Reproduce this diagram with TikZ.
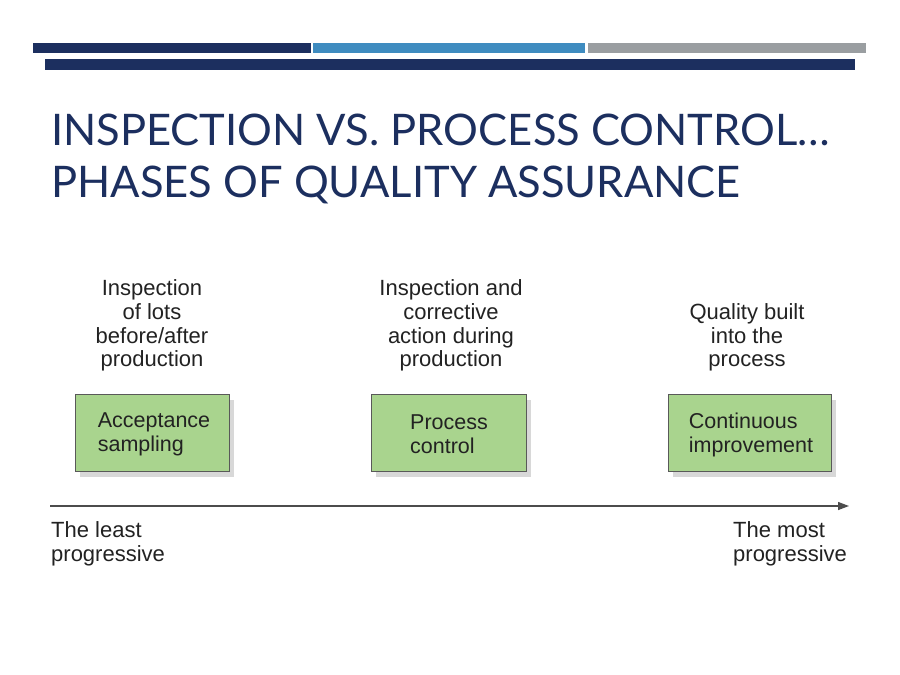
\documentclass[tikz,border=0pt]{standalone}
\usepackage{fontspec}
\setmainfont{Liberation Sans}
\newfontfamily\titlefont{Lato}
\usetikzlibrary{arrows.meta,shadows}
\definecolor{navy}{HTML}{1C2F5F}
\definecolor{lblue}{HTML}{3F8CC0}
\definecolor{bargray}{HTML}{9A9EA1}
\definecolor{boxgreen}{HTML}{A9D48E}
\definecolor{txt}{HTML}{222222}
\tikzset{
  phasebox/.style={draw=black!65, line width=0.9pt, fill=boxgreen, minimum width=154pt, minimum height=77pt,
    align=left, text=txt, font=\fontsize{21.5}{24}\selectfont, inner sep=0pt,
    drop shadow={shadow xshift=5pt, shadow yshift=-6pt, fill=black!25, opacity=0.6}},
  boxtext/.style={align=left, text=txt, font=\fontsize{21.5}{24}\selectfont, inner sep=0pt},
  desc/.style={align=center, text=txt, font=\fontsize{22}{23.7}\selectfont, inner sep=0pt, anchor=south},
  endlabel/.style={align=left, text=txt, font=\fontsize{22}{24}\selectfont, inner sep=0pt, anchor=north west},
  axis/.style={draw=black!70, line width=1.3pt, -{Triangle[length=11pt,width=8pt]}}
}
\begin{document}
\begin{tikzpicture}[x=1pt,y=-1pt]
\useasboundingbox[fill=white] (0,0) rectangle (900,675);
% top bars
\fill[navy] (33,43) rectangle (311,53);
\fill[lblue] (313,43) rectangle (585,53);
\fill[bargray] (588,43) rectangle (866,53);
\fill[navy] (45,59) rectangle (855,70);
% title
\node[anchor=base west, inner sep=0pt, text=navy, font=\titlefont\fontsize{43.5}{52}\selectfont] (t1) at (51,145) {INSPECTION VS. PROCESS CONTROL…};
\node[anchor=base west, inner sep=0pt, text=navy, font=\titlefont\fontsize{43.5}{52}\selectfont] (t2) at (51,197) {PHASES OF QUALITY ASSURANCE};
% boxes
\node[phasebox, minimum width=154pt] (b1) at (152,432.5) {};
\node[phasebox, minimum width=155pt] (b2) at (448.5,432.5) {};
\node[phasebox, minimum width=163pt] (b3) at (749.5,432.5) {};
\node[boxtext] (bt1) at (154,434.5) {Acceptance\\sampling};
\node[boxtext] (bt2) at (449,434.5) {Process\\control};
\node[boxtext] (bt3) at (751,434.5) {Continuous\\improvement};
% descriptions
\node[desc] (d1) at (152,371.5) {Inspection\\of lots\\before/after\\production};
\node[desc] (d2) at (451,371.5) {Inspection and\\corrective\\action during\\production};
\node[desc] (d3) at (747,371.5) {Quality built\\into the\\process};
% axis
\coordinate (a0) at (50,506);
\coordinate (a1) at (849,506);
\draw[axis] (a0) -- (a1);
\node[endlabel] (l1) at (51,521) {The least\\progressive};
\node[endlabel] (l2) at (733,521) {The most\\progressive};
\end{tikzpicture}
\end{document}
